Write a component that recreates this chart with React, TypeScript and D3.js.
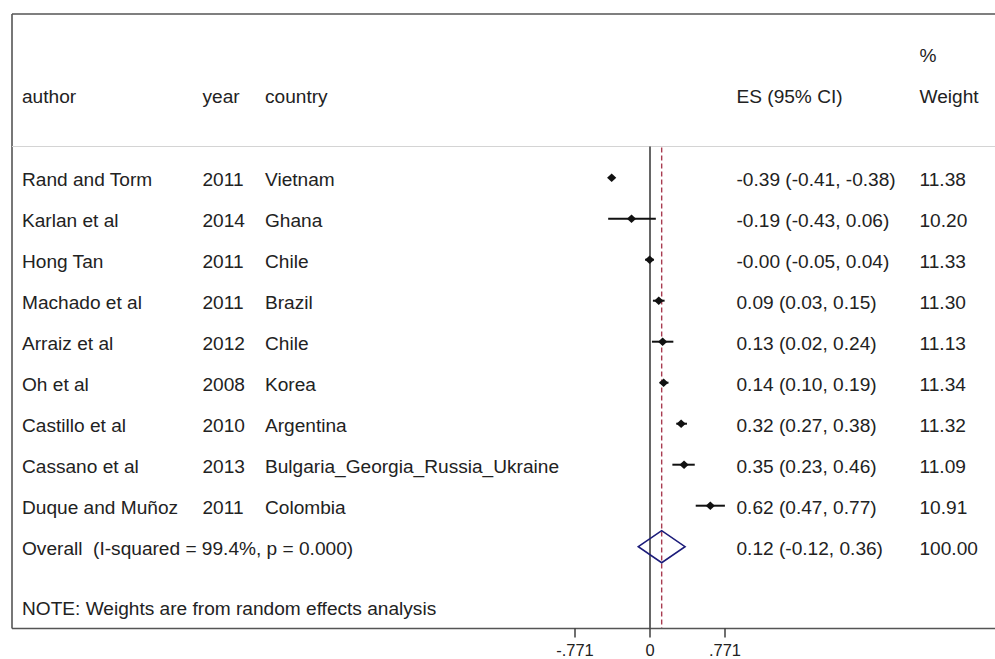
import React from "react";
import * as d3 from "d3";

const authors = ["Rand and Torm", "Karlan et al", "Hong Tan", "Machado et al", "Arraiz et al", "Oh et al", "Castillo et al", "Cassano et al", "Duque and Muñoz"];
const years = ["2011", "2014", "2011", "2011", "2012", "2008", "2010", "2013", "2011"];
const countries = ["Vietnam", "Ghana", "Chile", "Brazil", "Chile", "Korea", "Argentina", "Bulgaria_Georgia_Russia_Ukraine", "Colombia"];
const es = [-0.394, -0.19, -0.004, 0.09, 0.13, 0.14, 0.32, 0.35, 0.62];
const lo = [-0.41, -0.43, -0.05, 0.03, 0.02, 0.10, 0.27, 0.23, 0.47];
const hi = [-0.38, 0.06, 0.04, 0.15, 0.24, 0.19, 0.38, 0.46, 0.77];
const esLabels = ["-0.39 (-0.41, -0.38)", "-0.19 (-0.43, 0.06)", "-0.00 (-0.05, 0.04)", "0.09 (0.03, 0.15)", "0.13 (0.02, 0.24)", "0.14 (0.10, 0.19)", "0.32 (0.27, 0.38)", "0.35 (0.23, 0.46)", "0.62 (0.47, 0.77)"];
const weights = ["11.38", "10.20", "11.33", "11.30", "11.13", "11.34", "11.32", "11.09", "10.91"];
const overall = { es: 0.12, lo: -0.12, hi: 0.36, label: "0.12 (-0.12, 0.36)", weight: "100.00", text: "Overall  (I-squared = 99.4%, p = 0.000)" };
const ticks = [-0.771, 0, 0.771];
const tickLabels = ["-.771", "0", ".771"];

export default function App() {
  const W = 995, H = 659;
  const x = d3.scaleLinear().domain([-0.771, 0.771]).range([575, 725]);
  const y = d3.scaleLinear().domain([0, 1]).range([177.7, 218.7]);
  const font = "'Liberation Sans', Arial, Helvetica, sans-serif";
  const fs = 19.1;
  const boxL = 12, boxT = 14, boxB = 628.5, sepY = 146.5;
  const colAuthor = 22, colYear = 202.5, colCountry = 265, colES = 736.5, colW = 919.5;
  const baseOff = 8.4;
  const oy = y(authors.length);
  const diamond = (cx: number, cy: number, hw: number, hh: number) =>
    `M${cx - hw},${cy}L${cx},${cy - hh}L${cx + hw},${cy}L${cx},${cy + hh}Z`;
  return (
    <svg width={W} height={H} style={{ position: "absolute", left: 0, top: 0, background: "#fff", whiteSpace: "pre" }} fontFamily={font} fontSize={fs} fill="#222">
      <rect x={0} y={0} width={W} height={H} fill="#fff" />
      {/* box */}
      <line x1={boxL} x2={W + 2} y1={boxT} y2={boxT} stroke="#555" strokeWidth={1.6} />
      <line x1={boxL} x2={boxL} y1={boxT} y2={boxB} stroke="#555" strokeWidth={1.6} />
      <line x1={boxL} x2={W + 2} y1={sepY} y2={sepY} stroke="#d4d4d4" strokeWidth={1.2} />
      {/* header */}
      <text x={colAuthor} y={103}>author</text>
      <text x={colYear} y={103}>year</text>
      <text x={colCountry} y={103}>country</text>
      <text x={colES} y={103}>ES (95% CI)</text>
      <text x={colW} y={62}>%</text>
      <text x={colW} y={103}>Weight</text>
      {/* reference lines */}
      <line x1={x(0)} x2={x(0)} y1={sepY} y2={boxB} stroke="#333" strokeWidth={1.5} />
      <line x1={x(overall.es)} x2={x(overall.es)} y1={sepY + 1} y2={boxB} stroke="#a83c50" strokeWidth={1.4} strokeDasharray="5,3" />
      {/* rows */}
      {authors.map((a, i) => (
        <g key={a}>
          <text x={colAuthor} y={y(i) + baseOff}>{a}</text>
          <text x={colYear} y={y(i) + baseOff}>{years[i]}</text>
          <text x={colCountry} y={y(i) + baseOff}>{countries[i]}</text>
          <text x={colES} y={y(i) + baseOff}>{esLabels[i]}</text>
          <text x={colW} y={y(i) + baseOff}>{weights[i]}</text>
          <line x1={x(lo[i])} x2={x(hi[i])} y1={y(i)} y2={y(i)} stroke="#111" strokeWidth={2} />
          <path d={diamond(x(es[i]), y(i), 4.6, 4.3)} fill="#111" />
        </g>
      ))}
      {/* overall */}
      <text x={colAuthor} y={oy + baseOff} style={{ whiteSpace: "pre" }}>{overall.text}</text>
      <text x={colES} y={oy + baseOff}>{overall.label}</text>
      <text x={colW} y={oy + baseOff}>{overall.weight}</text>
      <path d={`M${x(overall.lo)},${oy}L${x(overall.es)},${oy - 16}L${x(overall.hi)},${oy}L${x(overall.es)},${oy + 16}Z`} fill="none" stroke="#1c1c7a" strokeWidth={1.6} />
      <text x={colAuthor} y={615}>NOTE: Weights are from random effects analysis</text>
      {/* axis */}
      <line x1={boxL} x2={W + 2} y1={boxB} y2={boxB} stroke="#555" strokeWidth={1.6} />
      {ticks.map((t, i) => (
        <g key={t}>
          <line x1={x(t)} x2={x(t)} y1={boxB} y2={boxB + 9} stroke="#333" strokeWidth={1.4} />
          <text x={x(t)} y={656} textAnchor="middle" fontSize={16.5}>{tickLabels[i]}</text>
        </g>
      ))}
    </svg>
  );
}
